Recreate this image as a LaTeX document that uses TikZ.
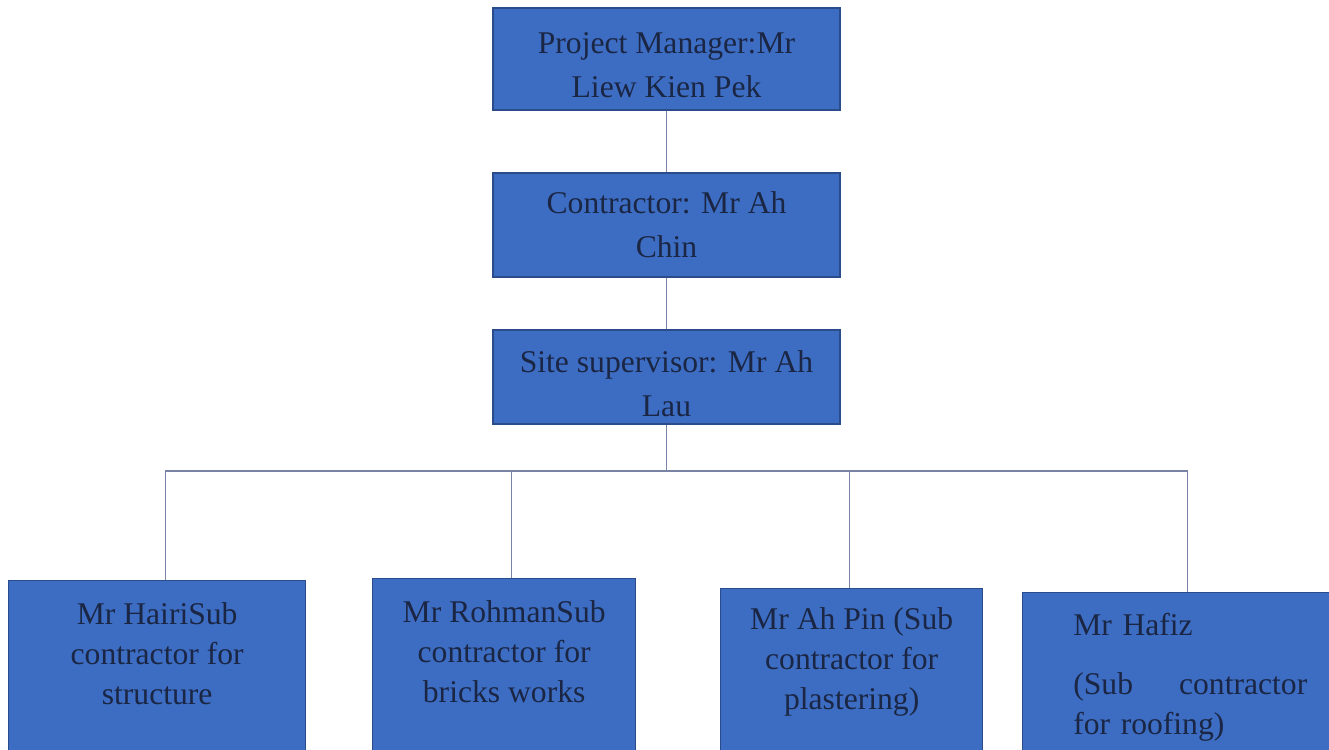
\documentclass[tikz,border=0pt]{standalone}
\usepackage{fontspec}
\setmainfont{Liberation Serif}
\usetikzlibrary{positioning}
\definecolor{Box}{HTML}{3D6DC2}
\definecolor{Edge}{HTML}{2A4C8A}
\definecolor{Ink}{HTML}{1A2644}
\definecolor{Link}{HTML}{7883A6}

\begin{document}
\begin{tikzpicture}[x=0.02cm,y=-0.02cm,
  box/.style={draw=Edge,line width=0.8pt,fill=Box,inner sep=0pt},
  topbox/.style={box,minimum width=6.94cm,align=center,text=Ink,
    font=\fontsize{18}{25}\selectfont},
  subbox/.style={box,anchor=north west,minimum height=4cm},
  subtxt/.style={align=center,text=Ink,inner sep=0pt,
    font=\fontsize{18}{22.7}\selectfont},
  link/.style={draw=Link,line width=0.6pt}]
  \useasboundingbox (0,0) rectangle (1329,750);
  \clip (0,0) rectangle (1329,750);
  % top of the chart
  \node[topbox,minimum height=2.04cm] (pm) at (666.5,59) {\rule{0pt}{19pt}Project Manager:Mr\\Liew Kien Pek};
  \node[topbox,minimum height=2.08cm] (con) at (666.5,225) {Contractor: Mr Ah\\Chin};
  \node[topbox,minimum height=1.88cm] (sup) at (666.5,377) {\rule{0pt}{20pt}Site supervisor: Mr Ah\\Lau};
  % sub contractors
  \node[subbox,minimum width=5.94cm] (hairi) at (8,580) {};
  \node[subbox,minimum width=5.26cm] (rohman) at (372,578) {};
  \node[subbox,minimum width=5.24cm] (ahpin) at (720,588) {};
  \node[subbox,minimum width=6.6cm] (hafiz) at (1022,592) {};
  \node[subtxt,below=0.44cm of hairi.north] (hairitxt) {Mr HairiSub\\contractor for\\structure};
  \node[subtxt,below=0.44cm of rohman.north] (rohmantxt) {Mr RohmanSub\\contractor for\\bricks works};
  \node[subtxt,below=0.38cm of ahpin.north] (ahpintxt) {Mr Ah Pin (Sub\\contractor for\\plastering)};
  \node[subtxt,align=left,text width=4.68cm,below right=0.42cm and 1.02cm of hafiz.north west] (hafiztxt)
    {Mr Hafiz\\[0.38cm](Sub\hfill contractor\\for roofing)};
  % connectors
  \coordinate (bus) at (666.5,471);
  \draw[link] (pm) -- (con);
  \draw[link] (con) -- (sup);
  \draw[link] (sup) -- (bus);
  \draw[link] (bus) -| ([xshift=0.17cm]hairi.north);
  \draw[link] (bus) -| ([xshift=0.15cm]rohman.north);
  \draw[link] (bus) -| ([xshift=-0.04cm]ahpin.north);
  \draw[link] (bus) -| (hafiz.north);
\end{tikzpicture}
\end{document}
